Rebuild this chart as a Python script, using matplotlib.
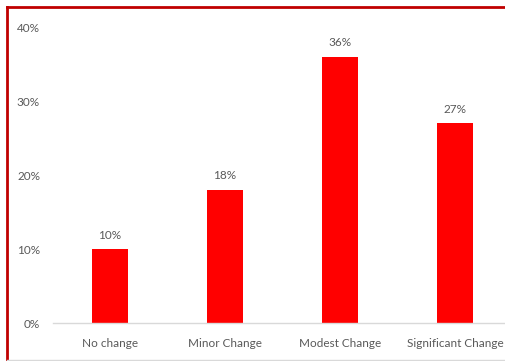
import matplotlib.pyplot as plt
from matplotlib.lines import Line2D
from matplotlib.ticker import PercentFormatter

categories = ["No change", "Minor Change", "Modest Change", "Significant Change"]
values = [10, 18, 36, 27]
y_ticks = [0, 10, 20, 30, 40]

text_color = "#595959"
plt.rcParams["font.family"] = ["Lato", "DejaVu Sans"]

fig = plt.figure(figsize=(5.05, 3.61), dpi=100)
ax = fig.add_axes([52.5 / 505, 38 / 361, 460 / 505, 296 / 361])

x = range(len(categories))
bars = ax.bar(x, values, width=0.31, color="#FF0000", zorder=2)
for b, v in zip(bars, values):
    ax.annotate(f"{v}%", (b.get_x() + b.get_width() / 2, v), xytext=(0, 6),
                textcoords="offset points", ha="center", va="bottom",
                fontsize=8.5, color=text_color)

ax.set_xlim(-0.5, len(categories) - 0.5)
ax.set_ylim(0, 40)
ax.set_yticks(y_ticks)
ax.yaxis.set_major_formatter(PercentFormatter(decimals=0))
ax.set_xticks(list(x))
ax.set_xticklabels(categories)
ax.tick_params(axis="both", length=0, labelsize=8.5, labelcolor=text_color)
ax.tick_params(axis="y", pad=9)
ax.tick_params(axis="x", pad=11)

for side in ["top", "right", "left"]:
    ax.spines[side].set_visible(False)
ax.spines["bottom"].set_color("#D9D9D9")
ax.spines["bottom"].set_linewidth(1)

# red frame (top and left visible) and faint bottom edge
fig.add_artist(Line2D([7 / 505, 1], [1 - 7 / 361, 1 - 7 / 361], color="#C00000", lw=2))
fig.add_artist(Line2D([7 / 505, 7 / 505], [0, 1 - 7 / 361], color="#C00000", lw=2))
fig.add_artist(Line2D([7 / 505, 1], [1 / 361, 1 / 361], color="#D9D9D9", lw=1))

fig.savefig("out.png", dpi=100)
